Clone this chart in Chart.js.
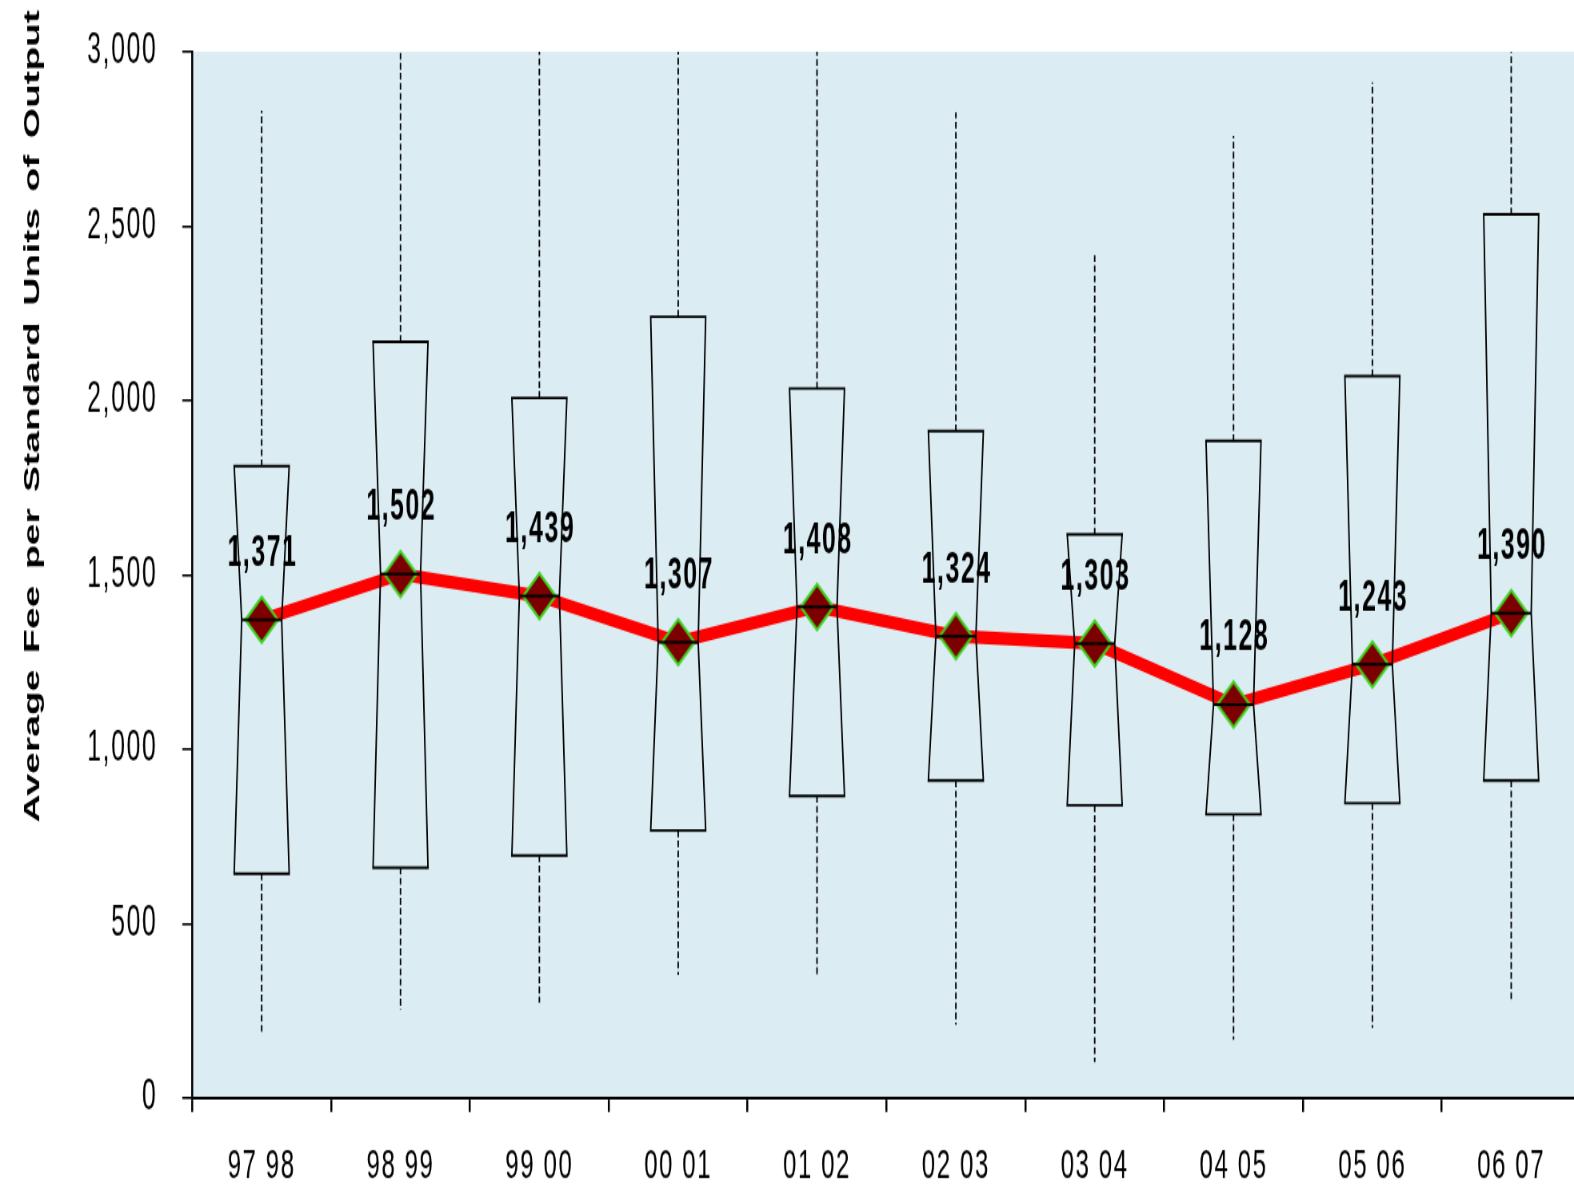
<!DOCTYPE html>
<html>
<head>
<meta charset="utf-8">
<script src="https://cdn.jsdelivr.net/npm/chart.js@4.4.1/dist/chart.umd.min.js"></script>
<style>
html,body{margin:0;padding:0;background:#ffffff;overflow:hidden;width:1574px;height:1185px;}
#wrap{position:absolute;left:0;top:0;width:1574px;height:1185px;overflow:hidden;}
canvas{display:block;}
</style>
</head>
<body>
<div id="wrap"><canvas id="c"></canvas></div>
<script>
// ---------------- DATA ----------------
const categories   = ['97 98','98 99','99 00','00 01','01 02','02 03','03 04','04 05','05 06','06 07'];
const medianFee    = [1371, 1502, 1439, 1307, 1408, 1324, 1303, 1128, 1243, 1390];
const upperQuartile= [1812, 2168, 2007, 2240, 2034, 1912, 1616, 1884, 2070, 2534];
const lowerQuartile= [ 643,  660,  695,  767,  866,  910,  839,  813,  845,  910];
const whiskerHigh  = [2831, 3000, 3000, 3000, 3000, 2826, 2423, 2759, 2912, 3000];
const whiskerLow   = [ 183,  253,  273,  353,  353,  210,  103,  167,  201,  282];
const yTickValues  = [0, 500, 1000, 1500, 2000, 2500, 3000];
const yTitle = 'Average Fee per Standard Units of Output';

// ---------------- FONT / GEOMETRY ----------------
function measure(font, s){ const c=document.createElement('canvas').getContext('2d'); c.font=font; return c.measureText(s).width; }
const HAS_NARROW = Math.abs(measure('100px "Liberation Sans Narrow", monospace','0000000000') - 456) < 25;
const FAM = HAS_NARROW ? '"Liberation Sans Narrow", "Arial Narrow", sans-serif' : '"Liberation Sans", Arial, sans-serif';
const SX = HAS_NARROW ? 1 : 0.8;
const SY = 1.4;
const OUT_W = 1574, OUT_H = 1185;
const W = Math.round(OUT_W / SX), H = Math.round(OUT_H / SY);
const AREA_LEFT = 192.3 / SX, AREA_RIGHT = 1581 / SX;   // plot runs slightly past the right edge, as in the reference
const AREA_TOP = 51.7 / SY, AREA_BOTTOM = 1097.3 / SY;

const canvas = document.getElementById('c');
canvas.width = W; canvas.height = H;
canvas.style.width = OUT_W + 'px';
canvas.style.height = OUT_H + 'px';

// diamond marker
const diamond = (function(){
  const hw = 16.3 / SX, hh = 16.3, pad = 3;
  const c = document.createElement('canvas');
  c.width = Math.ceil(2*hw + 2*pad); c.height = Math.ceil(2*hh + 2*pad);
  const g = c.getContext('2d');
  const cx = c.width/2, cy = c.height/2;
  g.beginPath();
  g.moveTo(cx, cy-hh); g.lineTo(cx+hw, cy); g.lineTo(cx, cy+hh); g.lineTo(cx-hw, cy); g.closePath();
  g.fillStyle = '#7d0000'; g.fill();
  g.lineWidth = 2.4; g.strokeStyle = '#3cd21e'; g.stroke();
  return c;
})();

const extendPlugin = {
  id: 'extend',
  afterLayout(chart){
    const s = chart.scales.x;
    s.right = AREA_RIGHT;
    s.width = s.right - s.left;
    s.configure();
    chart.chartArea.right = AREA_RIGHT;
    chart.chartArea.width = AREA_RIGHT - chart.chartArea.left;
  }
};

const bgPlugin = {
  id: 'bg',
  beforeDraw(chart){
    const a = chart.chartArea, ctx = chart.ctx;
    if ('letterSpacing' in ctx) ctx.letterSpacing = '2px';
    ctx.save();
    ctx.fillStyle = 'rgb(219,237,243)';
    ctx.fillRect(a.left, a.top, a.right - a.left, a.bottom - a.top);
    ctx.restore();
  }
};

const boxPlugin = {
  id: 'boxes',
  afterDatasetsDraw(chart){
    const xs = chart.scales.x, ys = chart.scales.y, ctx = chart.ctx, a = chart.chartArea;
    const hw = 27.5 / SX, notch = 7.5 / SX;
    ctx.save();
    ctx.beginPath(); ctx.rect(a.left, a.top, a.right - a.left, a.bottom - a.top); ctx.clip();
    for (let i = 0; i < categories.length; i++) {
      const cx = xs.getPixelForValue(i);
      const yT = ys.getPixelForValue(upperQuartile[i]);
      const yB = ys.getPixelForValue(lowerQuartile[i]);
      const yM = ys.getPixelForValue(medianFee[i]);
      const yWH = ys.getPixelForValue(whiskerHigh[i]);
      const yWL = ys.getPixelForValue(whiskerLow[i]);
      // whiskers
      ctx.setLineDash([4.8, 2.4]);
      ctx.lineWidth = 1.5 / SX;
      ctx.strokeStyle = '#000';
      ctx.beginPath();
      ctx.moveTo(cx, yT); ctx.lineTo(cx, yWH);
      ctx.moveTo(cx, yB); ctx.lineTo(cx, yWL);
      ctx.stroke();
      ctx.setLineDash([]);
      // notched box
      ctx.lineWidth = 1.9;
      ctx.beginPath();
      ctx.moveTo(cx - hw, yT);
      ctx.lineTo(cx + hw, yT);
      ctx.lineTo(cx + hw - notch, yM);
      ctx.lineTo(cx + hw, yB);
      ctx.lineTo(cx - hw, yB);
      ctx.lineTo(cx - hw + notch, yM);
      ctx.closePath();
      ctx.stroke();
      // median line
      ctx.lineWidth = 2;
      ctx.beginPath();
      ctx.moveTo(cx - hw + notch, yM); ctx.lineTo(cx + hw - notch, yM);
      ctx.stroke();
    }
    ctx.restore();
    // value labels
    ctx.save();
    ctx.fillStyle = '#000';
    ctx.font = 'bold 31px ' + FAM;
    ctx.textAlign = 'center';
    ctx.textBaseline = 'middle';
    for (let i = 0; i < categories.length; i++) {
      const cx = xs.getPixelForValue(i);
      const yM = ys.getPixelForValue(medianFee[i]);
      ctx.fillText(medianFee[i].toLocaleString('en-US'), cx + 1, yM - 66 / SY);
    }
    ctx.restore();
  },
  afterDraw(chart){
    const ctx = chart.ctx;
    const target = 812 / SY;
    let size = 32 / SX * (HAS_NARROW ? 1 : 0.72);
    ctx.save();
    if ('letterSpacing' in ctx) ctx.letterSpacing = '0px';
    ctx.font = 'bold ' + size + 'px ' + FAM;
    let w = ctx.measureText(yTitle).width;
    if (w > target * 0.96) { size = size * target * 0.96 / w; ctx.font = 'bold ' + size + 'px ' + FAM; w = ctx.measureText(yTitle).width; }
    const spaces = (yTitle.match(/ /g) || []).length;
    if ('wordSpacing' in ctx) ctx.wordSpacing = ((target - w) / spaces).toFixed(2) + 'px';
    ctx.translate(33 / SX, 416 / SY);
    ctx.rotate(-Math.PI / 2);
    ctx.fillStyle = '#000';
    ctx.textAlign = 'center';
    ctx.textBaseline = 'middle';
    ctx.fillText(yTitle, 0, 0);
    ctx.restore();
  }
};

const chart = new Chart(canvas.getContext('2d'), {
  type: 'line',
  data: {
    labels: categories,
    datasets: [{
      label: 'Median fee',
      data: medianFee,
      borderColor: '#ff0000',
      borderWidth: 13 / SY,
      tension: 0,
      fill: false,
      pointStyle: diamond,
      pointRadius: 18,
      pointHoverRadius: 18
    }]
  },
  options: {
    responsive: false,
    animation: false,
    devicePixelRatio: 1,
    events: [],
    layout: { padding: { top: AREA_TOP, right: 0, left: 0, bottom: 0 } },
    plugins: { legend: { display: false }, tooltip: { enabled: false } },
    scales: {
      x: {
        type: 'category',
        offset: true,
        grid: { offset: true, drawOnChartArea: false, color: '#000', lineWidth: 2 / SX, tickLength: 10 },
        border: { color: '#000', width: 2.1 },
        ticks: { color: '#000', font: { family: FAM, size: 30 }, padding: 21, maxRotation: 0, minRotation: 0, autoSkip: false },
        afterFit(s){ s.height = H - AREA_BOTTOM; s.paddingLeft = 0; s.paddingRight = 0; s.paddingTop = 0; s.paddingBottom = 0; }
      },
      y: {
        min: 0, max: 3000,
        afterBuildTicks(s){ s.ticks = yTickValues.map(v => ({ value: v })); },
        grid: { drawOnChartArea: false, color: '#000', lineWidth: 1.6, tickLength: 10 / SX },
        border: { color: '#000', width: 2 / SX },
        ticks: { color: '#000', font: { family: FAM, size: 31 }, padding: 25 / SX,
                 callback: v => Number(v).toLocaleString('en-US') },
        afterFit(s){ s.width = AREA_LEFT; s.paddingTop = 0; s.paddingBottom = 0; s.paddingLeft = 0; s.paddingRight = 0; }
      }
    }
  },
  plugins: [extendPlugin, bgPlugin, boxPlugin]
});
</script>
</body>
</html>
